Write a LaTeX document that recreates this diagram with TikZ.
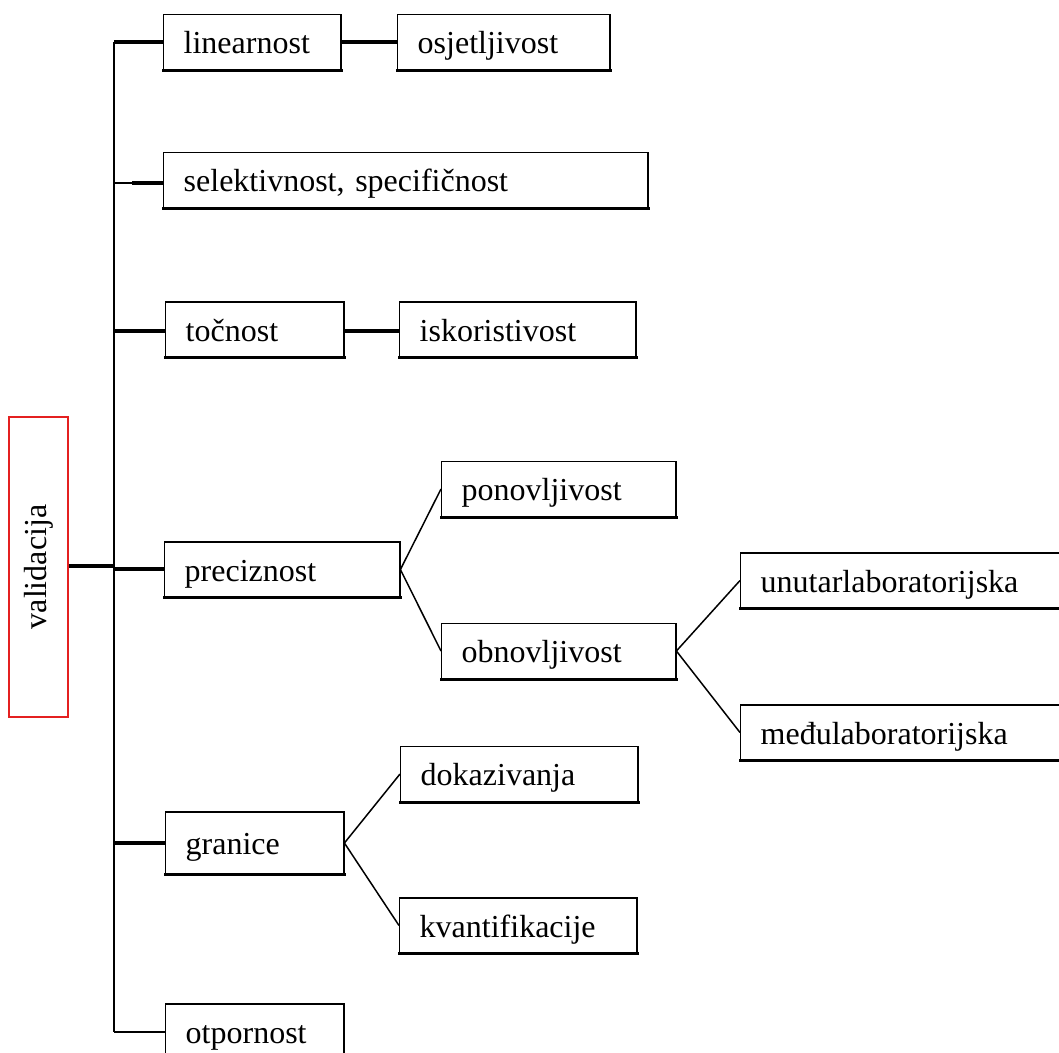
\documentclass[tikz,border=0pt]{standalone}
\usepackage{fontspec}
\setmainfont{Liberation Serif}
\definecolor{valred}{RGB}{228,32,32}
\begin{document}
\begin{tikzpicture}[x=1pt,y=-1pt,
  bx/.style={draw, line width=1.4, anchor=west, inner xsep=20, inner ysep=0,
    minimum height=55, text width=#1, align=left, text height=26, text depth=3,
    font=\fontsize{32}{36}\selectfont,
    append after command={(\tikzlastnode.south west) edge[line width=2.6, line cap=rect] (\tikzlastnode.south east)
      (\tikzlastnode.south east) edge[line width=2] (\tikzlastnode.north east)}},
  link/.style={line width=3.2},
  thinln/.style={line width=1.5}]
\useasboundingbox (0,0) rectangle (1059,1052);
\clip (0,0) rectangle (1059,1052);
% root
\node[draw=valred, line width=1.3, rotate=90, minimum width=300, minimum height=59,
  inner sep=0, font=\fontsize{32}{36}\selectfont] (val) at (38.5,567) {validacija};
% first level
\node[bx=137] (lin) at (163,42) {linearnost};
\node[bx=172] (osj) at (397,42) {osjetljivost};
\node[bx=444] (sel) at (163,180) {selektivnost, specifičnost};
\node[bx=138] (toc) at (165,329.5) {točnost};
\node[bx=196] (isk) at (399,329.5) {iskoristivost};
\node[bx=195] (pre) at (164,569.5) {preciznost};
\node[bx=194] (pon) at (441,489) {ponovljivost};
\node[bx=194] (obn) at (441,651) {obnovljivost};
\node[bx=320] (unu) at (740,580.5) {unutarlaboratorijska};
\node[bx=320] (med) at (740,732.5) {međulaboratorijska};
\node[bx=138, minimum height=62] (gra) at (165,843) {granice};
\node[bx=197] (dok) at (400,774) {dokazivanja};
\node[bx=197] (kva) at (399,925.5) {kvantifikacije};
\node[bx=138, minimum height=56] (otp) at (165,1032) {otpornost};
% trunk
\coordinate (tlin) at (114,42);
\coordinate (tsel) at (114,183);
\coordinate (tselb) at (132,183);
\coordinate (ttoc) at (114,331);
\coordinate (tval) at (114,566);
\coordinate (tpre) at (114,569);
\coordinate (tgra) at (114,843);
\coordinate (totp) at (114,1032);
\draw[thinln] (tlin) -- (totp);
\draw[link] (val.south |- tval) -- (tval);
\draw[link] (tpre) -- (pre.west |- tpre);
\draw[link] (tlin) -- (lin.west);
\draw[thinln] (tsel) -- (tselb);
\draw[link] (tselb) -- (sel.west |- tselb);
\draw[link] (ttoc) -- (toc.west |- ttoc);
\draw[link] (tgra) -- (gra.west);
\draw[thinln] (totp) -- (otp.west);
% second level
\draw[link] (lin.east) -- (osj.west);
\draw[link] (toc.east |- ttoc) -- (isk.west |- ttoc);
\draw[thinln] (pre.east) -- (pon.west);
\draw[thinln] (pre.east) -- (obn.west);
\draw[thinln] (obn.east) -- (unu.west);
\draw[thinln] (obn.east) -- (med.west);
\draw[thinln] (gra.east) -- (dok.west);
\draw[thinln] (gra.east) -- (kva.west);
\end{tikzpicture}
\end{document}
